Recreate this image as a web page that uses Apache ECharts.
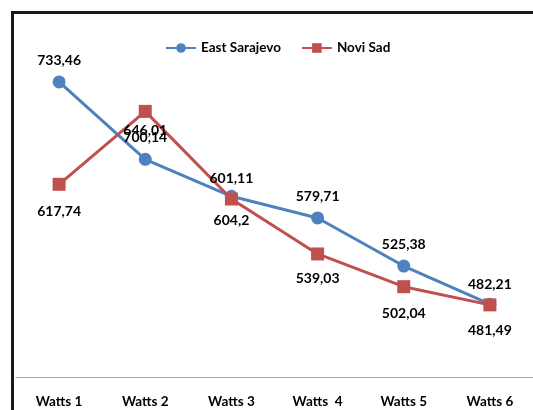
<!DOCTYPE html>
<html>
<head>
<meta charset="utf-8">
<script src="https://cdn.jsdelivr.net/npm/echarts@6/dist/echarts.min.js"></script>
<style>
  html, body { margin: 0; padding: 0; background: #fff; }
  #myChart { width: 533px; height: 410px; }
</style>
</head>
<body>
<div id="myChart"></div>
<script>
// categories and values
var categories = ['Watts 1', 'Watts 2', 'Watts 3', 'Watts  4', 'Watts 5', 'Watts 6'];
var eastSarajevo = [733.46, 646.01, 604.2, 579.71, 525.38, 482.21];
var noviSad = [617.74, 700.14, 601.11, 539.03, 502.04, 481.49];

// where each value label sits (style only)
var eastLabelPos = ['top', 'top', 'bottom', 'top', 'top', 'top'];
var eastLabelDist = [8, 15, 11, 8, 8, 6];
var noviLabelPos = ['bottom', 'bottom', 'top', 'bottom', 'bottom', 'bottom'];
var noviLabelDist = [14, 13, 7, 11, 13, 12];

var font = 'Lato';
var blue = '#4f81bd';
var red = '#c0504d';

function fmt(p) {
    return String(p.value).replace('.', ',');
}

function buildData(values, pos, dist) {
    var out = [];
    for (var i = 0; i < values.length; i++) {
        out.push({
            value: values[i],
            label: { position: pos[i], distance: dist[i] }
        });
    }
    return out;
}

var myChart = echarts.init(document.getElementById('myChart'));
myChart.setOption({
    animation: false,
    backgroundColor: '#fff',
    graphic: [{
        type: 'rect',
        shape: { x: 12.5, y: 12.5, width: 600, height: 500 },
        style: { fill: 'none', stroke: '#1a1a1a', lineWidth: 3 },
        z: 100
    }],
    legend: {
        left: 160,
        top: 36,
        itemWidth: 30,
        itemHeight: 12,
        itemGap: 20,
        textStyle: { fontFamily: font, fontWeight: 'bold', fontSize: 13.5, color: '#000' },
        data: ['East Sarajevo', 'Novi Sad']
    },
    grid: {
        left: 16,
        top: 23,
        width: 525,
        height: 354
    },
    xAxis: {
        type: 'category',
        data: categories,
        boundaryGap: true,
        axisLine: { lineStyle: { color: '#a6a6a6', width: 1 } },
        axisTick: { show: false },
        axisLabel: {
            margin: 18,
            color: '#000',
            fontFamily: font,
            fontWeight: 'bold',
            fontSize: 13.5
        }
    },
    yAxis: {
        type: 'value',
        min: 400,
        max: 800,
        show: false,
        splitLine: { show: false }
    },
    series: [
        {
            name: 'East Sarajevo',
            type: 'line',
            symbol: 'circle',
            symbolSize: 13,
            color: blue,
            lineStyle: { width: 3, color: blue },
            label: {
                show: true,
                formatter: fmt,
                color: '#000',
                fontFamily: font,
                fontWeight: 'bold',
                fontSize: 14
            },
            data: buildData(eastSarajevo, eastLabelPos, eastLabelDist)
        },
        {
            name: 'Novi Sad',
            type: 'line',
            symbol: 'rect',
            symbolSize: 13,
            color: red,
            lineStyle: { width: 3, color: red },
            label: {
                show: true,
                formatter: fmt,
                color: '#000',
                fontFamily: font,
                fontWeight: 'bold',
                fontSize: 14
            },
            data: buildData(noviSad, noviLabelPos, noviLabelDist)
        }
    ]
});
</script>
</body>
</html>
